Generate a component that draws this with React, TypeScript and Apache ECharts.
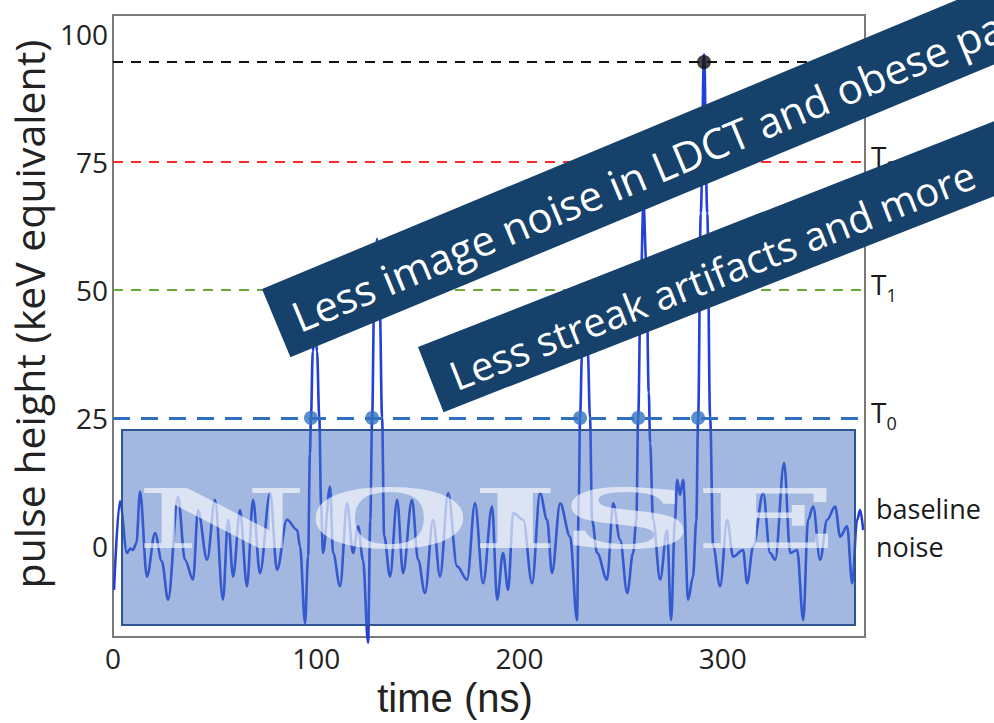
import React, { useEffect, useRef } from "react";
import * as echarts from "echarts";

// time axis (ns) and pulse height (keV equivalent) of the detector trace
const traceTime = [
  0.5, 3.4, 6.9, 8.5, 9.8, 11.5, 13.3, 16.7, 20.7, 24, 27.1, 32.0, 35.4, 39.4, 41.8, 46.3, 50.2, 54.1,
  56.6, 59.1, 62.5, 65.9, 68.9, 72.3, 77.3, 80.7, 85.6, 90.6, 92.0, 94.5, 96.0, 96.9, 97.4, 98.3, 99.4,
  100.4, 101.5, 102.4, 103.3, 106.8, 108.3, 111.7, 115.2, 118.1, 120.6, 123.0, 125.5, 126.6, 127.5,
  128.5, 129.9, 131.2, 132.4, 133.4, 136.3, 139.8, 142.7, 147.1, 150.1, 153.5, 157.5, 160.9, 164.9,
  169.3, 174.2, 178.1, 182.1, 186.5, 189.0, 191.9, 194.4, 196.9, 201.8, 206.2, 210.1, 213.6, 216.0,
  220.0, 224.9, 228.3, 229.2, 229.8, 230.8, 232.3, 233.6, 234.7, 235.7, 238.2, 243.1, 246.1, 249.5,
  253.0, 255.9, 257.5, 258.4, 259.6, 261.0, 262.4, 263.6, 264.3, 265.7, 269.2, 272.6, 274.6, 276.5,
  277.6, 279, 280.5, 283.0, 285.4, 287.0, 287.9, 289.2, 290.8, 292.4, 293.8, 295.3, 298.7, 302.2,
  305.1, 310.0, 312.0, 315.0, 319.9, 323.3, 325.8, 330.2, 333.2, 336.6, 339.6, 342.0, 344.5, 347.9,
  351.4, 355.3, 357.8, 361.2, 363.7, 366.1, 367.6, 369.1,
];
const traceValue = [
  -8.6, 8.7, -1.4, -0.5, -0.8, 0.5, 10.6, -6.0, 2.5, -3, -10.5, 9.6, -2.7, -6.6, 7.0, -2.7, 9.0, -10.5,
  5.1, -6.0, 7.0, -7.9, 9.0, -5.3, 10.3, -4.7, 5.1, 3.1, -0.1, -15.1, -2, 18, 25, 38, 44,
  38, 25, 8, -1.4, 11.6, -1.4, -7.9, 8.3, -1.4, 3.8, -2.7, -18.9, 5, 25,
  48, 60, 48, 25, 2, -6.0, 9.0, -5.3, 9.0, -2.7, -9.2, 5.1, -6.0, 10.3,
  -4.0, -6.6, 8.3, -7.3, 7.7, -10.5, -1.4, -8.6, 6.4, 5.1, -7.3, 10.3, 5.1, -5.3,
  8.3, 1.8, -14.5, 10, 25, 38, 46, 38, 25, 5, -1.4, -6.6, 8.3, 1.2,
  -9.2, -1.4, 5, 25, 50, 67, 55, 30, 20, 5.1, -6.6, 3.1, -14.5, 5,
  12.9, 10, 12.9, -10.5, -6.0, 5, 25, 65, 96, 65, 25, -0.1, -7.9, 5.1,
  -2.1, -0.8, -7.3, -0.1, 10.3, -1.4, -2.7, 16.2, -1.4, -0.8, -14.5, 5.1, 7.7, -2.7,
  5.1, 7.7, 1.8, 3.8, -7.3, 5.1, 7.0, 3.1,
];

// thresholds: max-height line, T2, T1, T0
const thresholdValues = [94.5, 75, 50, 25];
const thresholdNames = ["", "2", "1", "0"];
const thresholdColors = ["#111111", "#ff2b2b", "#6aaa3a", "#2f6fc0"];

// times where pulses cross T0 and the detected maximum
const crossingTimes = [97.4, 127.5, 229.8, 258.4, 287.9];
const maxPoint = [290.8, 94.5];

const xTicks = [0, 100, 200, 300];
const yTicks = [0, 25, 50, 75, 100];

const FONT = '"Open Sans", "Noto Sans", sans-serif';

export default function App() {
  const ref = useRef<HTMLDivElement>(null);
  useEffect(() => {
    document.body.style.margin = "0";
    const chart = echarts.init(ref.current!, null, { renderer: "svg" });
    const option: any = {
      animation: false,
      backgroundColor: "#ffffff",
      textStyle: { fontFamily: FONT },
      grid: {
        left: 113,
        right: 129,
        top: 15,
        bottom: 86,
        show: true,
        borderColor: "#7a7a7a",
        borderWidth: 2,
        backgroundColor: "transparent",
      },
      xAxis: {
        type: "value",
        min: 0,
        max: 370,
        axisLine: { show: false },
        axisTick: { show: false },
        splitLine: { show: false },
        axisLabel: { customValues: xTicks, fontSize: 28, lineHeight: 28, color: "#222", margin: 7, fontFamily: FONT },
        name: "time (ns)",
        nameLocation: "middle",
        nameGap: 41,
        nameTextStyle: {
          fontSize: 40,
          lineHeight: 40,
          color: "#222",
          padding: [0, 68, 0, 0],
          fontFamily: '"Liberation Sans", Arial, sans-serif',
        },
      },
      yAxis: {
        type: "value",
        min: -17.8,
        max: 103.7,
        axisLine: { show: false },
        axisTick: { show: false },
        splitLine: { show: false },
        axisLabel: { customValues: yTicks, fontSize: 28, color: "#222", margin: 5, fontFamily: FONT },
        name: "pulse height (keV equivalent)",
        nameLocation: "middle",
        nameGap: 25,
        nameTextStyle: { fontSize: 41, color: "#222", padding: [0, 0, 0, 24], fontFamily: FONT },
      },
      series: [
        {
          type: "line",
          data: traceTime.map((t, i) => [t, traceValue[i]]),
          showSymbol: false,
          clip: false,
          smooth: 0.35,
          smoothMonotone: "x",
          z: 3,
          lineStyle: { color: "#2540d8", width: 2.6 },
          markLine: {
            silent: true,
            symbol: ["none", "none"],
            data: thresholdValues.map((v, i) => ({
              yAxis: v,
              lineStyle: {
                color: thresholdColors[i],
                width: i === 3 ? 3 : 2,
                type: i === 3 ? [17, 11] : [10, 8],
              },
              label: {
                show: i > 0,
                position: "end",
                distance: 6,
                padding: [0, 0, 12, 0],
                formatter: "{t|T}{s|" + thresholdNames[i] + "}",
                rich: {
                  t: { fontSize: 28, color: "#1a1a1a", lineHeight: 40, fontFamily: FONT },
                  s: { fontSize: 18, color: "#1a1a1a", lineHeight: 18, verticalAlign: "bottom", fontFamily: FONT },
                },
              },
            })),
          },
        },
        {
          type: "scatter",
          data: crossingTimes.map((t) => [t, thresholdValues[3]]),
          symbolSize: 14,
          itemStyle: { color: "#3372c2" },
          z: 5,
        },
        {
          type: "scatter",
          data: [maxPoint],
          symbolSize: 14,
          itemStyle: { color: "#111111" },
          z: 5,
        },
      ],
      graphic: [
        {
          type: "text",
          z: 6,
          x: 876,
          y: 508,
          style: { text: "baseline", fontSize: 27, fill: "#1a1a1a", fontFamily: FONT, verticalAlign: "middle", textVerticalAlign: "middle" },
        },
        {
          type: "text",
          z: 6,
          x: 876,
          y: 546,
          style: { text: "noise", fontSize: 27, fill: "#1a1a1a", fontFamily: FONT, verticalAlign: "middle", textVerticalAlign: "middle" },
        },
        {
          type: "rect",
          z: 10,
          shape: { x: 122, y: 430, width: 733, height: 195 },
          style: { fill: "rgba(70,114,196,0.5)", stroke: "#2f5597", lineWidth: 2 },
        },
        {
          type: "text",
          z: 11,
          x: 136,
          y: 519,
          scaleX: 2.29,
          scaleY: 1,
          style: {
            text: "NOISE",
            fontSize: 82,
            fontWeight: "bold",
            fontFamily: '"DejaVu Serif", serif',
            fill: "rgba(255,255,255,0.62)",
            verticalAlign: "middle",
            textVerticalAlign: "middle",
          },
        },
        {
          type: "group",
          z: 20,
          x: 262,
          y: 289,
          rotation: (22.6 * Math.PI) / 180,
          children: [
            { type: "rect", z: 20, shape: { x: 0, y: 0, width: 1000, height: 74 }, style: { fill: "#16416b" } },
            {
              type: "text",
              z: 21,
              x: 18,
              y: 39,
              style: {
                text: "Less image noise in LDCT and obese pat",
                fontSize: 42,
                fill: "#ffffff",
                fontFamily: FONT,
                verticalAlign: "middle",
                textVerticalAlign: "middle",
              },
            },
          ],
        },
        {
          type: "group",
          z: 20,
          x: 418,
          y: 347,
          rotation: (21.4 * Math.PI) / 180,
          children: [
            { type: "rect", z: 20, shape: { x: 0, y: 0, width: 800, height: 70 }, style: { fill: "#16416b" } },
            {
              type: "text",
              z: 21,
              x: 20,
              y: 40,
              style: {
                text: "Less streak artifacts and more",
                fontSize: 40,
                fill: "#ffffff",
                fontFamily: FONT,
                verticalAlign: "middle",
                textVerticalAlign: "middle",
              },
            },
          ],
        },
      ],
    };
    chart.setOption(option);
    return () => chart.dispose();
  }, []);
  return <div ref={ref} style={{ width: 994, height: 723 }} />;
}
